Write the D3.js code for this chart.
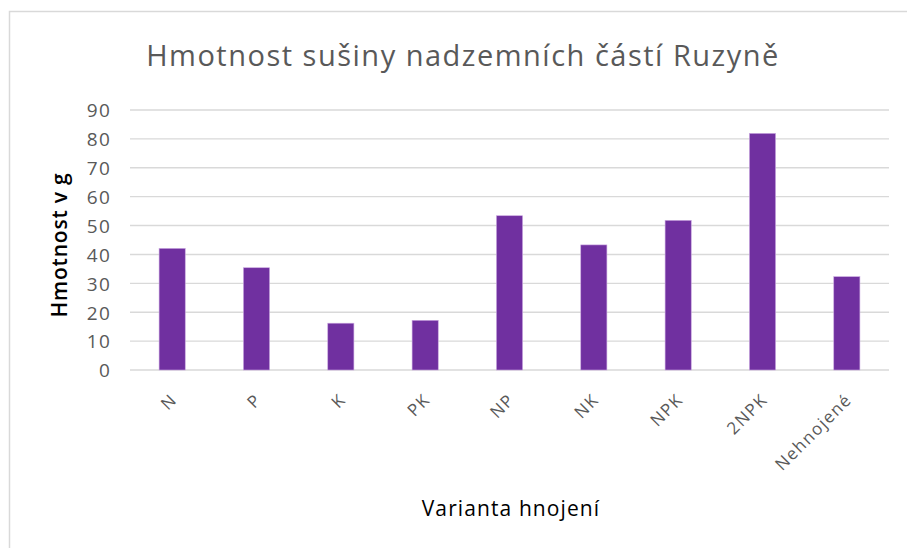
<!DOCTYPE html>
<html lang="cs">
<head>
<meta charset="UTF-8">
<title>Hmotnost sušiny nadzemních částí Ruzyně</title>
<style>
    body { margin: 0; background: #fff; font-family: "Open Sans", Arial, sans-serif; }
    .grid line { stroke: #d9d9d9; stroke-width: 1.4; }
    .ytick text { fill: #595959; font-family: "Open Sans", sans-serif; font-size: 19px; letter-spacing: 1.2px; }
    .xtick text { fill: #595959; font-family: "Open Sans", sans-serif; font-size: 17px; letter-spacing: 1.4px; }
</style>
</head>
<body>
<svg id="chart" width="907" height="548"></svg>
<script src="https://d3js.org/d3.v7.min.js"></script>
<script>
    // hodnoty
    const varianty = ["N", "P", "K", "PK", "NP", "NK", "NPK", "2NPK", "Nehnojené"];
    const hmotnost = [42.1, 35.4, 16.2, 17.2, 53.4, 43.3, 51.8, 81.9, 32.3];
    const yTicks = [0, 10, 20, 30, 40, 50, 60, 70, 80, 90];

    const svg = d3.select('#chart');
    const plotL = 130, plotR = 889, plotT = 110, plotB = 370;

    // ramecek grafu (vpravo a dole oriznuty)
    svg.append('rect')
        .attr('x', 9.5).attr('y', 11.5)
        .attr('width', 920).attr('height', 560)
        .attr('fill', '#fff')
        .attr('stroke', '#d9d9d9')
        .attr('stroke-width', 1.5);

    const x = d3.scaleBand().domain(varianty).range([plotL, plotR]).padding(0);
    const y = d3.scaleLinear().domain([0, 90]).range([plotB, plotT]);

    // mrizka
    svg.append('g').attr('class', 'grid')
        .selectAll('line').data(yTicks).enter().append('line')
        .attr('x1', plotL).attr('x2', plotR)
        .attr('y1', d => y(d)).attr('y2', d => y(d));

    // popisky osy y
    const yAxis = d3.axisLeft(y).tickValues(yTicks).tickSize(0).tickPadding(0);
    svg.append('g').attr('class', 'ytick')
        .attr('transform', 'translate(111,0)')
        .call(yAxis)
        .call(g => g.select('.domain').remove())
        .selectAll('text').attr('dy', '0.36em');

    // sloupce
    const barW = x.bandwidth() * 0.31;
    svg.selectAll('.bar').data(varianty).enter().append('rect')
        .attr('class', 'bar')
        .attr('x', d => x(d) + x.bandwidth() / 2 - barW / 2)
        .attr('y', (d, i) => y(hmotnost[i]))
        .attr('width', barW)
        .attr('height', (d, i) => y(0) - y(hmotnost[i]))
        .attr('fill', '#7030a0')
        .attr('stroke', '#c9a6e0')
        .attr('stroke-width', 0.6);

    // popisky osy x (otocene o 45°)
    const xAxis = d3.axisBottom(x).tickSize(0).tickPadding(0);
    svg.append('g').attr('class', 'xtick')
        .attr('transform', 'translate(0,' + plotB + ')')
        .call(xAxis)
        .call(g => g.select('.domain').remove())
        .selectAll('text')
        .attr('x', 0).attr('y', 0).attr('dy', 0)
        .attr('text-anchor', 'end')
        .attr('transform', 'translate(6,31) rotate(-45)');

    // nadpis
    svg.append('text')
        .attr('x', 463).attr('y', 66)
        .attr('text-anchor', 'middle')
        .attr('fill', '#595959')
        .attr('font-size', 29)
        .attr('letter-spacing', 1.5)
        .text('Hmotnost sušiny nadzemních částí Ruzyně');

    // nazvy os
    svg.append('text')
        .attr('transform', 'translate(67,245) rotate(-90)')
        .attr('text-anchor', 'middle')
        .attr('fill', '#000')
        .attr('font-size', 21)
        .attr('font-weight', 600)
        .attr('letter-spacing', 0.8)
        .text('Hmotnost v g');

    svg.append('text')
        .attr('x', 511).attr('y', 516)
        .attr('text-anchor', 'middle')
        .attr('fill', '#000')
        .attr('font-size', 21)
        .attr('letter-spacing', 1.1)
        .text('Varianta hnojení');
</script>
</body>
</html>
